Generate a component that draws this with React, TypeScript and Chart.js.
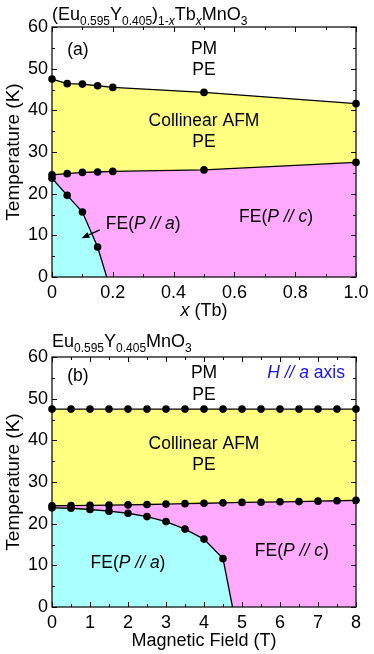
import React, { useEffect, useRef } from 'react';
import { Chart, registerables } from 'chart.js';
Chart.register(...registerables);

const FONT = '"Liberation Sans", Arial, Helvetica, sans-serif';

// ---------- Panel (a): (Eu0.595Y0.405)1-xTbxMnO3 ----------
const xTbUpper = [0, 0.05, 0.1, 0.15, 0.2, 0.5, 1.0];
const tTbUpper = [47.5, 46.4, 46.3, 45.9, 45.5, 44.3, 41.6];
const xTbMiddle = [0, 0.05, 0.1, 0.15, 0.2, 0.5, 1.0];
const tTbMiddle = [24.5, 24.8, 25.1, 25.2, 25.35, 25.7, 27.5];
const xTbLower = [0, 0.05, 0.1, 0.15, 0.18];
const tTbLower = [23.7, 19.6, 15.6, 7.2, 0];
const markTbLower = [true, true, true, true, false];

// ---------- Panel (b): Eu0.595Y0.405MnO3, H // a ----------
const fieldUpper = [0, 0.5, 1, 1.5, 2, 2.5, 3, 3.5, 4, 4.5, 5, 5.5, 6, 6.5, 7, 7.5, 8];
const tFieldUpper = [47.5, 47.5, 47.5, 47.5, 47.5, 47.5, 47.5, 47.5, 47.5, 47.5, 47.5, 47.5, 47.5, 47.5, 47.5, 47.5, 47.5];
const fieldMiddle = [0, 0.5, 1, 1.5, 2, 2.5, 3, 3.5, 4, 4.5, 5, 5.5, 6, 6.5, 7, 7.5, 8];
const tFieldMiddle = [24.3, 24.35, 24.4, 24.45, 24.5, 24.6, 24.7, 24.8, 24.9, 25.0, 25.1, 25.15, 25.25, 25.3, 25.4, 25.5, 25.6];
const fieldLower = [0, 0.5, 1, 1.5, 2, 2.5, 3, 3.5, 4, 4.5, 4.75];
const tFieldLower = [23.8, 23.7, 23.4, 23.0, 22.5, 21.7, 20.5, 18.7, 16.3, 11.6, 0];
const markFieldLower = [true, true, true, true, true, true, true, true, true, true, false];

// ticks
const tempTicks = [0, 10, 20, 30, 40, 50, 60];

const YELLOW = 'rgb(255,255,128)';
const PINK = 'rgb(255,170,255)';
const CYAN = 'rgb(170,255,255)';

type Run = { t: string; italic?: boolean; sub?: boolean };

function drawRuns(
  ctx: CanvasRenderingContext2D,
  runs: Run[],
  x: number,
  y: number,
  align: 'left' | 'center' | 'right',
  size: number,
  color = '#000',
  subSize = 12,
  subShift = 5
) {
  const fontOf = (r: Run) =>
    `${r.italic ? 'italic ' : ''}${r.sub ? subSize : size}px ${FONT}`;
  let total = 0;
  const widths = runs.map((r) => {
    ctx.font = fontOf(r);
    const w = ctx.measureText(r.t).width;
    total += w;
    return w;
  });
  let cx = align === 'left' ? x : align === 'center' ? x - total / 2 : x - total;
  ctx.fillStyle = color;
  ctx.textBaseline = 'alphabetic';
  ctx.textAlign = 'left';
  runs.forEach((r, i) => {
    ctx.font = fontOf(r);
    ctx.fillText(r.t, cx, y + (r.sub ? subShift : 0));
    cx += widths[i];
  });
}

type Label = { runs: Run[]; x: number; y: number; align: 'left' | 'center' | 'right'; color?: string };

type PanelSpec = {
  xMin: number;
  xMax: number;
  xStep: number;
  xMinor: number;
  xFormat: (v: number) => string;
  padTop: number;
  xAxisH: number;
  lower: { x: number[]; y: number[]; marks: boolean[] };
  middle: { x: number[]; y: number[] };
  upper: { x: number[]; y: number[] };
  title: Run[];
  xTitle: Run[];
  labels: Label[];
  arrow?: { from: [number, number]; to: [number, number] };
};

const LABEL_SIZE = 17.5;

const panelA: PanelSpec = {
  xMin: 0,
  xMax: 1,
  xStep: 0.2,
  xMinor: 0.1,
  xFormat: (v) => (Math.abs(v) < 1e-9 ? '0' : v.toFixed(1)),
  padTop: 27,
  xAxisH: 50,
  lower: { x: xTbLower, y: tTbLower, marks: markTbLower },
  middle: { x: xTbMiddle, y: tTbMiddle },
  upper: { x: xTbUpper, y: tTbUpper },
  title: [
    { t: '(Eu' },
    { t: '0.595', sub: true },
    { t: 'Y' },
    { t: '0.405', sub: true },
    { t: ')' },
    { t: '1-', sub: true },
    { t: 'x', sub: true, italic: true },
    { t: 'Tb' },
    { t: 'x', sub: true, italic: true },
    { t: 'MnO' },
    { t: '3', sub: true },
  ],
  xTitle: [{ t: 'x', italic: true }, { t: ' (Tb)' }],
  labels: [
    { runs: [{ t: '(a)' }], x: 0.085, y: 54.7, align: 'center' },
    { runs: [{ t: 'PM' }], x: 0.5, y: 55.0, align: 'center' },
    { runs: [{ t: 'PE' }], x: 0.5, y: 49.9, align: 'center' },
    { runs: [{ t: 'Collinear AFM' }], x: 0.5, y: 37.7, align: 'center' },
    { runs: [{ t: 'PE' }], x: 0.5, y: 32.6, align: 'center' },
    { runs: [{ t: 'FE(' }, { t: 'P // a', italic: true }, { t: ')' }], x: 0.177, y: 13.0, align: 'left' },
    { runs: [{ t: 'FE(' }, { t: 'P // c', italic: true }, { t: ')' }], x: 0.737, y: 14.6, align: 'center' },
  ],
  arrow: { from: [0.157, 11.3], to: [0.097, 9.3] },
};

const panelB: PanelSpec = {
  xMin: 0,
  xMax: 8,
  xStep: 1,
  xMinor: 0.5,
  xFormat: (v) => String(Math.round(v)),
  padTop: 30,
  xAxisH: 47,
  lower: { x: fieldLower, y: tFieldLower, marks: markFieldLower },
  middle: { x: fieldMiddle, y: tFieldMiddle },
  upper: { x: fieldUpper, y: tFieldUpper },
  title: [
    { t: 'Eu' },
    { t: '0.595', sub: true },
    { t: 'Y' },
    { t: '0.405', sub: true },
    { t: 'MnO' },
    { t: '3', sub: true },
  ],
  xTitle: [{ t: 'Magnetic Field (T)' }],
  labels: [
    { runs: [{ t: '(b)' }], x: 0.68, y: 55.7, align: 'center' },
    { runs: [{ t: 'PM' }], x: 4.0, y: 56.5, align: 'center' },
    { runs: [{ t: 'PE' }], x: 4.0, y: 51.1, align: 'center' },
    {
      runs: [{ t: 'H // a', italic: true }, { t: ' axis' }],
      x: 7.71,
      y: 56.4,
      align: 'right',
      color: 'rgb(20,20,255)',
    },
    { runs: [{ t: 'Collinear AFM' }], x: 4.0, y: 39.4, align: 'center' },
    { runs: [{ t: 'PE' }], x: 4.0, y: 34.3, align: 'center' },
    { runs: [{ t: 'FE(' }, { t: 'P // a', italic: true }, { t: ')' }], x: 2.0, y: 10.8, align: 'center' },
    { runs: [{ t: 'FE(' }, { t: 'P // c', italic: true }, { t: ')' }], x: 6.31, y: 13.7, align: 'center' },
  ],
};

function makeChart(canvas: HTMLCanvasElement, p: PanelSpec) {
  const toPts = (xs: number[], ys: number[]) => xs.map((x, i) => ({ x, y: ys[i] }));
  const base = {
    borderColor: '#000',
    borderWidth: 1.3,
    fill: 'origin',
    pointBackgroundColor: '#000',
    pointBorderColor: '#000',
    pointBorderWidth: 0,
    tension: 0,
    clip: false,
  };

  const overlay = {
    id: 'overlay',
    afterDraw(chart: any) {
      const { ctx, chartArea: a, scales } = chart;
      const sx = scales.x;
      const sy = scales.y;
      ctx.save();
      ctx.strokeStyle = '#000';
      ctx.lineWidth = 1;
      ctx.beginPath();
      // x ticks (inside, top and bottom)
      const nX = Math.round((p.xMax - p.xMin) / p.xMinor);
      for (let i = 0; i <= nX; i++) {
        const v = p.xMin + i * p.xMinor;
        const major = Math.abs(v / p.xStep - Math.round(v / p.xStep)) < 1e-6;
        const L = major ? 5 : 3;
        const px = Math.round(sx.getPixelForValue(v)) + 0.5;
        ctx.moveTo(px, a.bottom);
        ctx.lineTo(px, a.bottom - L);
        ctx.moveTo(px, a.top);
        ctx.lineTo(px, a.top + L);
      }
      for (let v = 0; v <= 60; v += 5) {
        const major = v % 10 === 0;
        const L = major ? 5 : 3;
        const py = Math.round(sy.getPixelForValue(v)) + 0.5;
        ctx.moveTo(a.left, py);
        ctx.lineTo(a.left + L, py);
        ctx.moveTo(a.right, py);
        ctx.lineTo(a.right - L, py);
      }
      ctx.stroke();
      ctx.lineWidth = 1.2;
      ctx.strokeRect(a.left, a.top, a.right - a.left, a.bottom - a.top);

      // arrow
      if (p.arrow) {
        const x1 = sx.getPixelForValue(p.arrow.from[0]);
        const y1 = sy.getPixelForValue(p.arrow.from[1]);
        const x2 = sx.getPixelForValue(p.arrow.to[0]);
        const y2 = sy.getPixelForValue(p.arrow.to[1]);
        const ang = Math.atan2(y2 - y1, x2 - x1);
        const head = 8;
        const hx = x2 - head * Math.cos(ang);
        const hy = y2 - head * Math.sin(ang);
        ctx.lineWidth = 1.4;
        ctx.beginPath();
        ctx.moveTo(x1, y1);
        ctx.lineTo(hx, hy);
        ctx.stroke();
        ctx.fillStyle = '#000';
        ctx.beginPath();
        ctx.moveTo(x2, y2);
        ctx.lineTo(hx + 3 * Math.sin(ang), hy - 3 * Math.cos(ang));
        ctx.lineTo(hx - 3 * Math.sin(ang), hy + 3 * Math.cos(ang));
        ctx.closePath();
        ctx.fill();
      }

      // in-plot labels
      const cap = LABEL_SIZE * 0.36;
      for (const lb of p.labels) {
        drawRuns(ctx, lb.runs, sx.getPixelForValue(lb.x), sy.getPixelForValue(lb.y) + cap, lb.align, LABEL_SIZE, lb.color || '#000');
      }

      // title
      drawRuns(ctx, p.title, a.left, 19.5, 'left', 18, '#000', 12, 5.5);

      // x title
      drawRuns(ctx, p.xTitle, (a.left + a.right) / 2, a.bottom + 38.5, 'center', 18);

      // y title
      ctx.save();
      ctx.translate(14, (a.top + a.bottom) / 2);
      ctx.rotate(-Math.PI / 2);
      ctx.font = `19px ${FONT}`;
      ctx.fillStyle = '#000';
      ctx.textAlign = 'center';
      ctx.textBaseline = 'middle';
      ctx.fillText('Temperature (K)', 0, 0);
      ctx.restore();

      ctx.restore();
    },
  };

  return new Chart(canvas, {
    type: 'line',
    data: {
      datasets: [
        {
          ...base,
          data: toPts(p.lower.x, p.lower.y),
          backgroundColor: CYAN,
          pointRadius: p.lower.marks.map((m) => (m ? 3.8 : 0)),
          pointHoverRadius: p.lower.marks.map((m) => (m ? 3.8 : 0)),
        } as any,
        {
          ...base,
          data: toPts(p.middle.x, p.middle.y),
          backgroundColor: PINK,
          pointRadius: 3.8,
          pointHoverRadius: 3.8,
        } as any,
        {
          ...base,
          data: toPts(p.upper.x, p.upper.y),
          backgroundColor: YELLOW,
          pointRadius: 3.8,
          pointHoverRadius: 3.8,
        } as any,
      ],
    },
    options: {
      responsive: false,
      animation: false,
      devicePixelRatio: 1,
      events: [],
      layout: { padding: { top: p.padTop, right: 18, left: 0, bottom: 0 } },
      plugins: { legend: { display: false }, tooltip: { enabled: false }, title: { display: false } },
      scales: {
        x: {
          type: 'linear',
          min: p.xMin,
          max: p.xMax,
          grid: { display: false, drawTicks: false },
          border: { display: false },
          ticks: {
            stepSize: p.xStep,
            autoSkip: false,
            maxRotation: 0,
            padding: 5,
            color: '#000',
            font: { family: FONT, size: 18 },
            callback: (v: any) => p.xFormat(Number(v)),
          },
          afterFit: (s: any) => {
            s.height = p.xAxisH;
          },
        },
        y: {
          type: 'linear',
          min: 0,
          max: 60,
          afterBuildTicks: (s: any) => {
            s.ticks = tempTicks.map((v) => ({ value: v }));
          },
          grid: { display: false, drawTicks: false },
          border: { display: false },
          ticks: {
            autoSkip: false,
            padding: 4,
            color: '#000',
            font: { family: FONT, size: 18 },
            callback: (v: any) => String(v),
          },
          afterFit: (s: any) => {
            s.width = 52;
          },
        },
      },
    } as any,
    plugins: [overlay],
  });
}

function Panel({ spec, top }: { spec: PanelSpec; top: number }) {
  const ref = useRef<HTMLCanvasElement | null>(null);
  useEffect(() => {
    if (!ref.current) return;
    const c = makeChart(ref.current, spec);
    return () => c.destroy();
  }, [spec]);
  return (
    <canvas
      ref={ref}
      width={374}
      height={327}
      style={{ position: 'absolute', left: 0, top, width: 374, height: 327, display: 'block' }}
    />
  );
}

export default function App() {
  return (
    <div style={{ position: 'absolute', left: 0, top: 0, width: 374, height: 654, background: '#fff' }}>
      <Panel spec={panelA} top={0} />
      <Panel spec={panelB} top={327} />
    </div>
  );
}
